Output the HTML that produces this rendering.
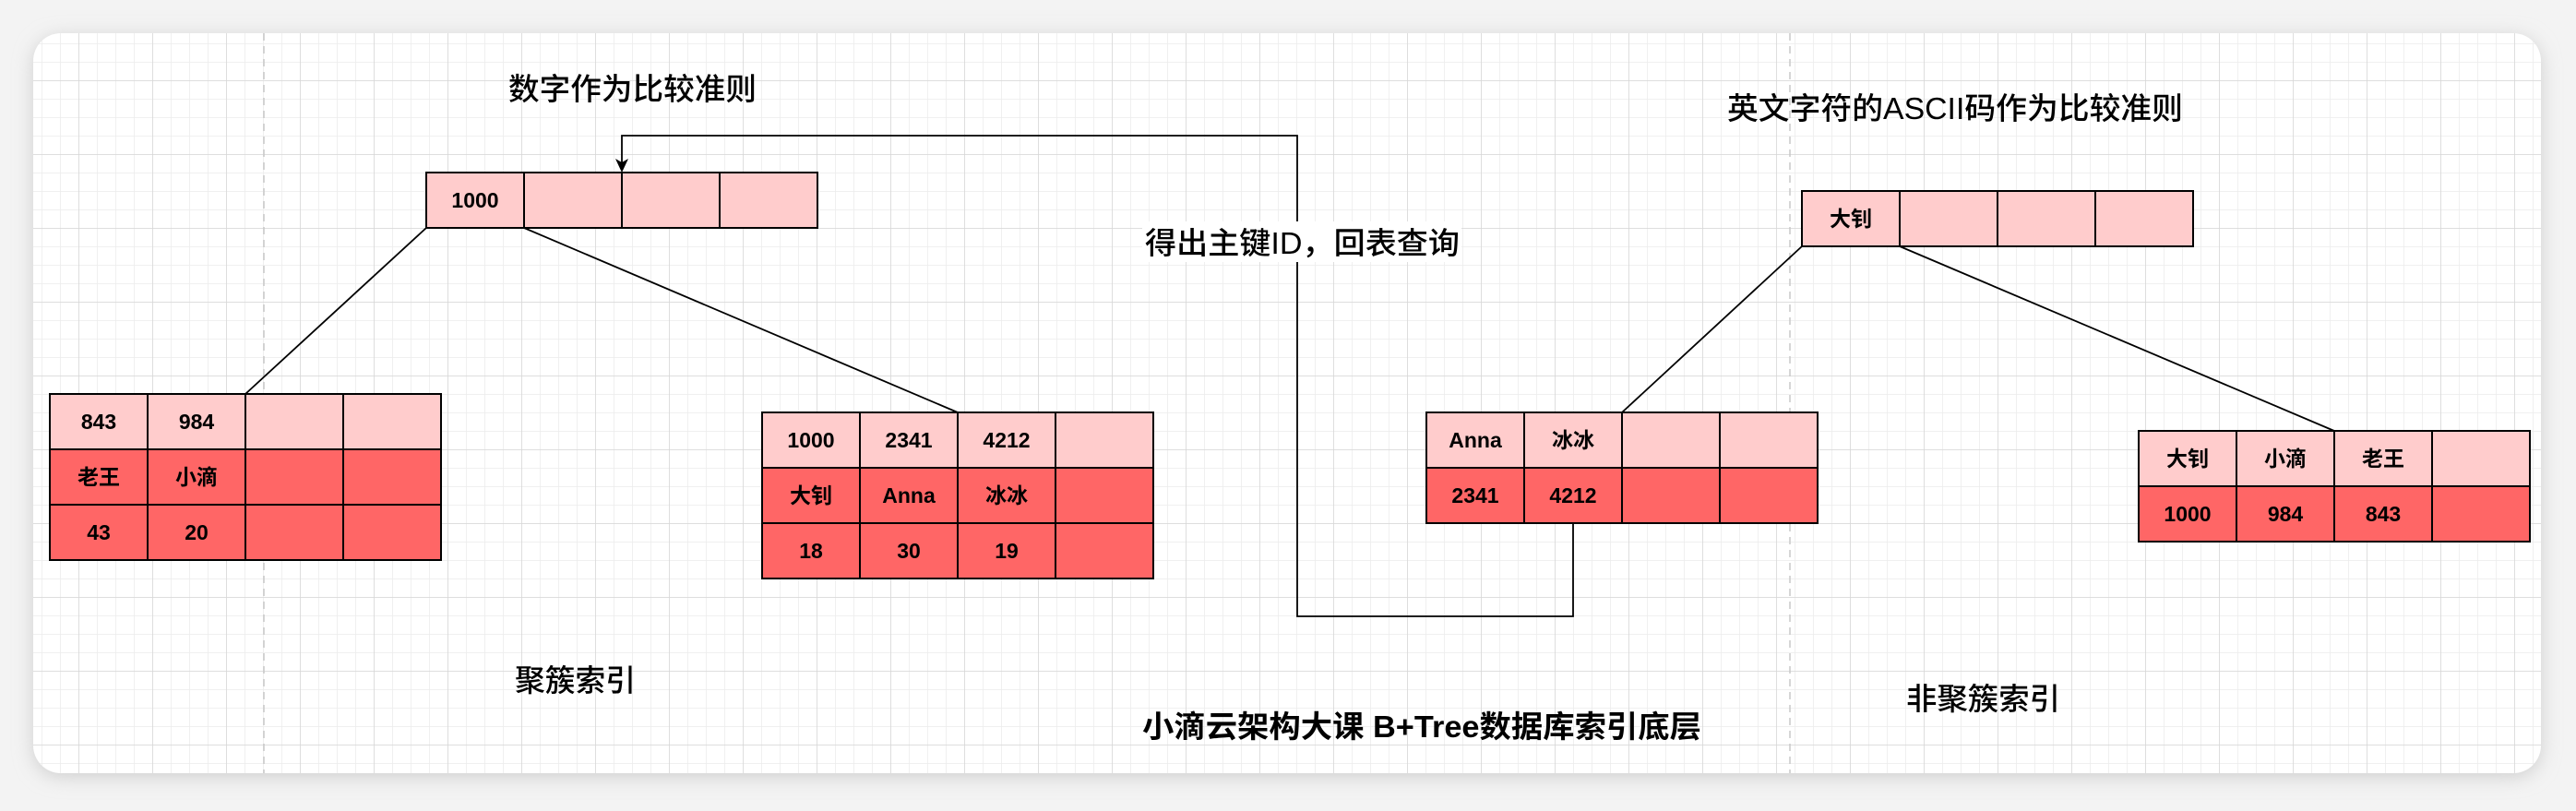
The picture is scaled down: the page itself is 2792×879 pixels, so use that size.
<!DOCTYPE html>
<html><head><meta charset="utf-8"><style>
html,body{margin:0;padding:0;background:#f3f3f3;}
body{width:2792px;height:874px;overflow:hidden;}
</style></head><body>
<svg width="2792" height="874" xmlns="http://www.w3.org/2000/svg" font-family="'Liberation Sans','Noto Sans CJK SC',sans-serif">
<defs>
<pattern id="mn" width="20" height="20" patternUnits="userSpaceOnUse" x="5" y="7"><path d="M0 0H20M0 0V20" stroke="#ececec" stroke-width="1.5" fill="none"/></pattern>
<pattern id="mj" width="80" height="80" patternUnits="userSpaceOnUse" x="5" y="7"><path d="M0 0H80M0 0V80" stroke="#d6d6d6" stroke-width="1.5" fill="none"/></pattern>
<clipPath id="cp"><rect x="36" y="36" width="2718" height="802" rx="30"/></clipPath>
<filter id="sh" x="-5%" y="-10%" width="110%" height="120%"><feGaussianBlur stdDeviation="10"/></filter>
</defs>
<rect x="36" y="40" width="2718" height="802" rx="30" fill="#cfcfcf" filter="url(#sh)"/>
<rect x="36" y="36" width="2718" height="802" rx="30" fill="#fff"/>
<g clip-path="url(#cp)">
<rect x="36" y="36" width="2718" height="802" fill="url(#mn)"/>
<rect x="36" y="36" width="2718" height="802" fill="url(#mj)"/>
<line x1="286" y1="36" x2="286" y2="838" stroke="#c8c8c8" stroke-width="1.5" stroke-dasharray="8,6"/>
<line x1="1940" y1="36" x2="1940" y2="838" stroke="#c8c8c8" stroke-width="1.5" stroke-dasharray="8,6"/>
</g>
<g stroke="#000" stroke-width="2">
<rect x="462" y="187" width="424" height="60" fill="#FFCCCC"/>
<line x1="568" y1="187" x2="568" y2="247"/><line x1="674" y1="187" x2="674" y2="247"/><line x1="780" y1="187" x2="780" y2="247"/>
<rect x="54" y="427" width="424" height="60" fill="#FFCCCC"/>
<rect x="54" y="487" width="424" height="120" fill="#FF6666"/>
<line x1="54" y1="547" x2="478" y2="547"/>
<line x1="160" y1="427" x2="160" y2="607"/><line x1="266" y1="427" x2="266" y2="607"/><line x1="372" y1="427" x2="372" y2="607"/>
<rect x="826" y="447" width="424" height="60" fill="#FFCCCC"/>
<rect x="826" y="507" width="424" height="120" fill="#FF6666"/>
<line x1="826" y1="567" x2="1250" y2="567"/>
<line x1="932" y1="447" x2="932" y2="627"/><line x1="1038" y1="447" x2="1038" y2="627"/><line x1="1144" y1="447" x2="1144" y2="627"/>
<rect x="1953" y="207" width="424" height="60" fill="#FFCCCC"/>
<line x1="2059" y1="207" x2="2059" y2="267"/><line x1="2165" y1="207" x2="2165" y2="267"/><line x1="2271" y1="207" x2="2271" y2="267"/>
<rect x="1546" y="447" width="424" height="60" fill="#FFCCCC"/>
<rect x="1546" y="507" width="424" height="60" fill="#FF6666"/>
<line x1="1652" y1="447" x2="1652" y2="567"/><line x1="1758" y1="447" x2="1758" y2="567"/><line x1="1864" y1="447" x2="1864" y2="567"/>
<rect x="2318" y="467" width="424" height="60" fill="#FFCCCC"/>
<rect x="2318" y="527" width="424" height="60" fill="#FF6666"/>
<line x1="2424" y1="467" x2="2424" y2="587"/><line x1="2530" y1="467" x2="2530" y2="587"/><line x1="2636" y1="467" x2="2636" y2="587"/>
</g>
<g stroke="#000" stroke-width="1.8" fill="none">
<line x1="462" y1="247" x2="266" y2="427"/>
<line x1="568" y1="247" x2="1038" y2="447"/>
<line x1="1953" y1="267" x2="1758" y2="447"/>
<line x1="2059" y1="267" x2="2530" y2="467"/>
<polyline points="1705,567 1705,668 1406,668 1406,147 674,147 674,178"/>
</g>
<path d="M667 172 L674 187 L681 172 L674 176 Z" fill="#000"/>
<g font-weight="bold" font-size="23" text-anchor="middle" fill="#000">
<text x="515" y="225">1000</text>
<text x="107" y="465">843</text><text x="213" y="465">984</text>
<text x="107" y="525">老王</text><text x="213" y="525">小滴</text>
<text x="107" y="585">43</text><text x="213" y="585">20</text>
<text x="879" y="485">1000</text><text x="985" y="485">2341</text><text x="1091" y="485">4212</text>
<text x="879" y="545">大钊</text><text x="985" y="545">Anna</text><text x="1091" y="545">冰冰</text>
<text x="879" y="605">18</text><text x="985" y="605">30</text><text x="1091" y="605">19</text>
<text x="2006" y="245">大钊</text>
<text x="1599" y="485">Anna</text><text x="1705" y="485">冰冰</text>
<text x="1599" y="545">2341</text><text x="1705" y="545">4212</text>
<text x="2371" y="505">大钊</text><text x="2477" y="505">小滴</text><text x="2583" y="505">老王</text>
<text x="2371" y="565">1000</text><text x="2477" y="565">984</text><text x="2583" y="565">843</text>
</g>
<g font-size="33" fill="#000" font-weight="500" lengthAdjust="spacingAndGlyphs">
<text x="551" y="108" textLength="269" lengthAdjust="spacingAndGlyphs">数字作为比较准则</text>
<rect x="1238" y="240" width="346" height="44" fill="#fff"/>
<text x="1241" y="275" textLength="341" lengthAdjust="spacingAndGlyphs">得出主键ID，回表查询</text>
<text x="1872" y="129" textLength="494" lengthAdjust="spacingAndGlyphs">英文字符的ASCII码作为比较准则</text>
<text x="558" y="749" textLength="131" lengthAdjust="spacingAndGlyphs">聚簇索引</text>
<text x="2066" y="769" textLength="167" lengthAdjust="spacingAndGlyphs">非聚簇索引</text>
<text x="1238" y="799" font-weight="bold" textLength="606" lengthAdjust="spacingAndGlyphs">小滴云架构大课  B+Tree数据库索引底层</text>
</g>
</svg>
</body></html>
